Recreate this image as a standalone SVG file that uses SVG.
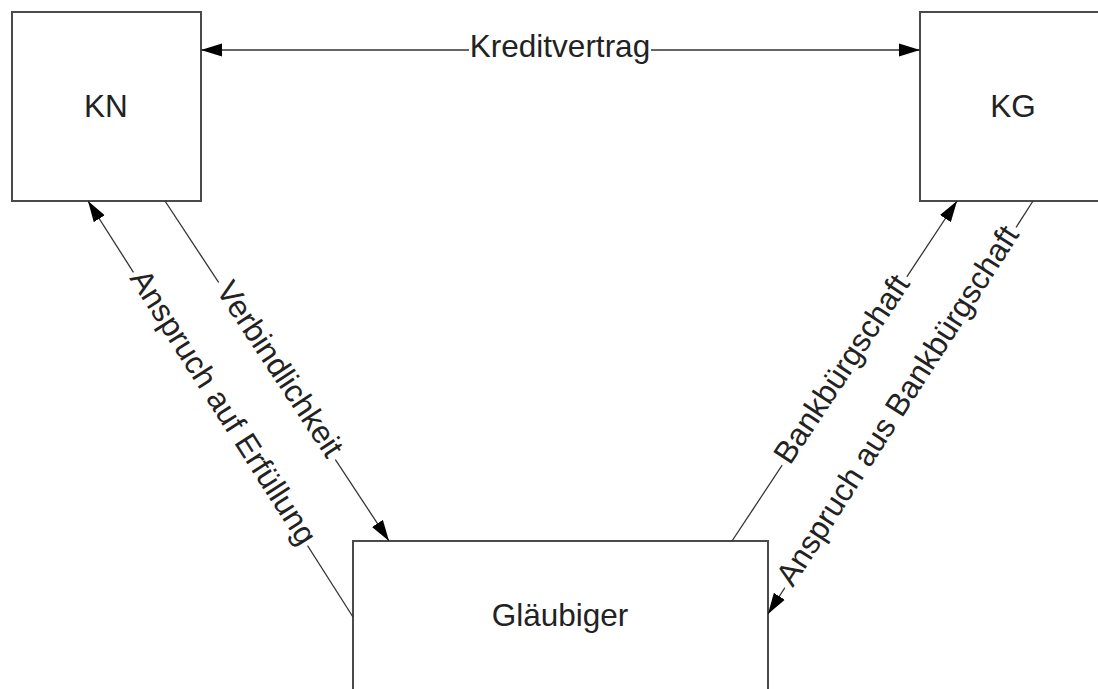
<svg xmlns="http://www.w3.org/2000/svg" width="1098" height="689" viewBox="0 0 1098 689">
  <style>
    .box { fill: #ffffff; stroke: #4a4a4a; stroke-width: 2; }
    .lbl { font-family: "Liberation Sans", Arial, sans-serif; font-size: 31.5px; fill: #222222; text-anchor: middle; }
    .con { stroke: #333333; stroke-width: 1.3; fill: none; }
    .gap { fill: #ffffff; stroke: none; }
  </style>
  <defs>
    <marker id="arr" markerUnits="userSpaceOnUse" markerWidth="21" markerHeight="14" viewBox="0 0 21 14" refX="21" refY="7" orient="auto-start-reverse">
      <path d="M0,0.5 L21,7 L0,13.5 z" fill="#000000"/>
    </marker>
  </defs>
  <rect x="0" y="0" width="1098" height="689" fill="#ffffff"/>

  <g id="node-kn">
    <rect class="box" x="12" y="12" width="189" height="189"/>
    <text class="lbl" x="106" y="117">KN</text>
  </g>
  <g id="node-kg">
    <rect class="box" x="920" y="12" width="189" height="189"/>
    <text class="lbl" x="1013" y="117">KG</text>
  </g>
  <g id="node-glaeubiger">
    <rect class="box" x="353" y="541" width="415" height="160"/>
    <text class="lbl" x="560" y="626">Gläubiger</text>
  </g>

  <g id="connectors">
    <g id="c-kreditvertrag">
      <line class="con" x1="201" y1="50" x2="920" y2="50" marker-start="url(#arr)" marker-end="url(#arr)"/>
      <rect class="gap" x="469" y="45" width="182" height="10"/>
      <text class="lbl" x="560" y="57">Kreditvertrag</text>
    </g>
    <g id="c-anspruch-erfuellung">
      <line class="con" x1="353" y1="617" x2="88" y2="201" marker-end="url(#arr)"/>
      <g transform="translate(220.5,409) rotate(57.5)">
        <rect class="gap" x="-162" y="-5" width="324" height="10"/>
        <text class="lbl" x="0" y="7">Anspruch auf Erfüllung</text>
      </g>
    </g>
    <g id="c-verbindlichkeit">
      <line class="con" x1="165" y1="201" x2="389" y2="541" marker-end="url(#arr)"/>
      <g transform="translate(277,371) rotate(56.6)">
        <rect class="gap" x="-106" y="-5" width="212" height="10"/>
        <text class="lbl" x="0" y="7">Verbindlichkeit</text>
      </g>
    </g>
    <g id="c-bankbuergschaft">
      <line class="con" x1="732" y1="541" x2="957" y2="201" marker-end="url(#arr)"/>
      <g transform="translate(844.5,371) rotate(-56.5)">
        <rect class="gap" x="-113" y="-5" width="226" height="10"/>
        <text class="lbl" x="0" y="7">Bankbürgschaft</text>
      </g>
    </g>
    <g id="c-anspruch-bankbuergschaft">
      <line class="con" x1="1033" y1="201" x2="768" y2="614" marker-end="url(#arr)"/>
      <g transform="translate(900.5,407.5) rotate(-57.3)">
        <rect class="gap" x="-214" y="-5" width="428" height="10"/>
        <text class="lbl" x="0" y="7">Anspruch aus Bankbürgschaft</text>
      </g>
    </g>
  </g>
</svg>
